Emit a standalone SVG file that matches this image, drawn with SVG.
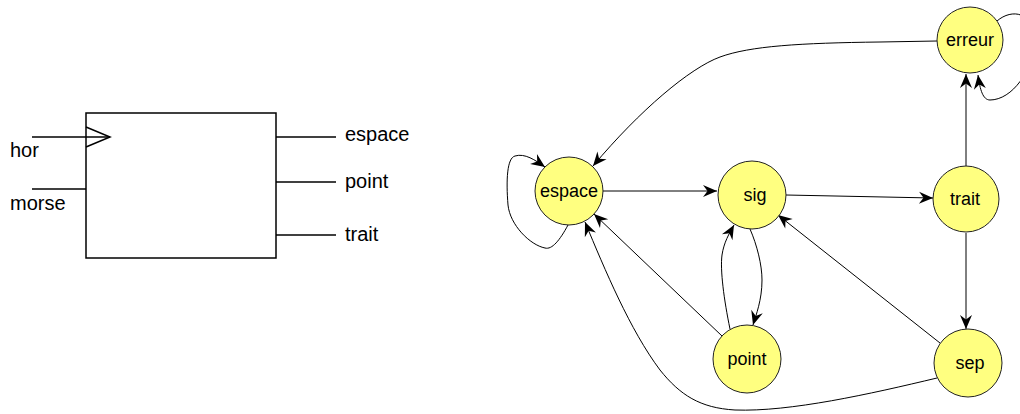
<svg xmlns="http://www.w3.org/2000/svg" width="1020" height="414" viewBox="0 0 1020 414">
<style>
.blk{fill:#fff;stroke:#000;stroke-width:1.5}
.wire{stroke:#000;stroke-width:1.5;fill:none}
.lbl{font-family:"Liberation Sans",Arial,sans-serif;font-size:20px;fill:#000}
.node circle{fill:#ffff80;stroke:#222;stroke-width:1}
.node text{font-family:"Liberation Sans",Arial,sans-serif;font-size:18px;fill:#000;text-anchor:middle}
.edge{fill:none;stroke:#000;stroke-width:1;marker-end:url(#arr)}
</style>
<defs>
<marker id="arr" markerUnits="userSpaceOnUse" viewBox="-16 -7 17 14" refX="0" refY="0" markerWidth="17" markerHeight="14" orient="auto">
<path d="M0,0 L-14,-6 L-9.5,0 L-14,6 Z" fill="#000"/>
</marker>
</defs>
<g id="block">
<rect class="blk" x="86" y="113" width="190" height="145"/>
<line class="wire" x1="32" y1="137" x2="110" y2="137" stroke-width="2"/>
<polyline class="wire" points="86,127 110,137 86,147"/>
<line class="wire" x1="32" y1="189" x2="86" y2="189"/>
<line class="wire" x1="276" y1="137" x2="336" y2="137" stroke-width="2"/>
<line class="wire" x1="276" y1="182" x2="336" y2="182"/>
<line class="wire" x1="276" y1="235" x2="336" y2="235"/>
<text class="lbl" x="10" y="157">hor</text>
<text class="lbl" x="10" y="210">morse</text>
<text class="lbl" x="345" y="141">espace</text>
<text class="lbl" x="345" y="188">point</text>
<text class="lbl" x="345" y="241">trait</text>
</g>
<g id="connectors">
<path class="edge" d="M603,191 L717,191"/>
<path class="edge" d="M786,195 L933,198"/>
<path class="edge" d="M966,166 L966,74"/>
<path class="edge" d="M997,21 C1012,8 1034,12 1034,40 C1034,70 1012,100 990,100 C983,100 980,90 978,75"/>
<path class="edge" d="M966,233 L966,329"/>
<path class="edge" d="M940,343 L778,215"/>
<path class="edge" d="M937,378 C870,394 790,412 735,410 C700,408 680,395 660,370 C630,330 605,270 585,222"/>
<path class="edge" d="M722,336 L594,214"/>
<path class="edge" d="M730,329 C724,300 720,270 722,255 C724,242 729,234 734,225"/>
<path class="edge" d="M750,229 C757,245 762,265 762,280 C762,300 756,315 753,325"/>
<path class="edge" d="M568,225 C560,240 552,250 545,248 C530,245 510,225 508,205 C506,180 507,158 515,156 C525,153 535,160 545,167"/>
<path class="edge" d="M937,41 L880,42 C800,43 750,46 720,57 C690,68 640,110 593,166"/>
</g>
<g id="n-espace" class="node"><circle cx="569" cy="191" r="34"/><text x="569" y="197">espace</text></g>
<g id="n-sig" class="node"><circle cx="752" cy="195" r="34"/><text x="755" y="201">sig</text></g>
<g id="n-trait" class="node"><circle cx="966" cy="199" r="33"/><text x="965" y="205">trait</text></g>
<g id="n-erreur" class="node"><circle cx="970" cy="40" r="33"/><text x="970" y="46">erreur</text></g>
<g id="n-point" class="node"><circle cx="747" cy="359" r="34"/><text x="747" y="365">point</text></g>
<g id="n-sep" class="node"><circle cx="968" cy="363" r="34"/><text x="970" y="369">sep</text></g>
</svg>
